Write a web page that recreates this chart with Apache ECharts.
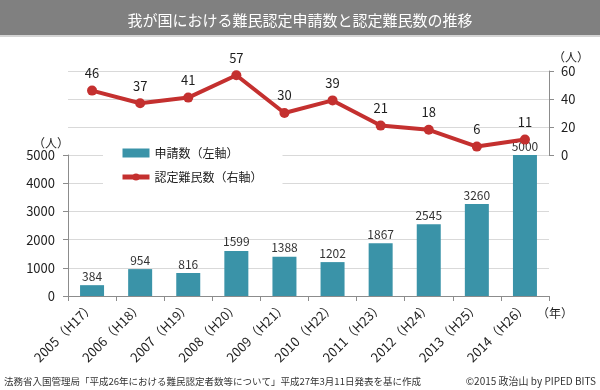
<!DOCTYPE html>
<html>
<head>
<meta charset="utf-8">
<script src="https://cdn.jsdelivr.net/npm/echarts@6/dist/echarts.min.js"></script>
<style>
html,body{margin:0;padding:0;background:#fff;}
#chart{width:600px;height:390px;}
</style>
</head>
<body>
<div id="chart"></div>
<script>
const categories = ['2005（H17）','2006（H18）','2007（H19）','2008（H20）','2009（H21）','2010（H22）','2011（H23）','2012（H24）','2013（H25）','2014（H26）'];
const applications = [384, 954, 816, 1599, 1388, 1202, 1867, 2545, 3260, 5000];
const recognized = [46, 37, 41, 57, 30, 39, 21, 18, 6, 11];
const seriesNames = ['申請数（左軸）', '認定難民数（右軸）'];
const titleText = '我が国における難民認定申請数と認定難民数の推移';
const sourceText = '法務省入国管理局「平成26年における難民認定者数等について」平成27年3月11日発表を基に作成';
const creditText = '©2015 政治山 by PIPED BITS';

const FONT = '"Noto Sans CJK JP", "Noto Sans", sans-serif';
const BAR = '#3a93a8';
const RED = '#c4302f';
const AXIS = '#8c8c8c';
const GRID = '#d9d9d9';
const TXT = '#1e1e1e';

const chart = echarts.init(document.getElementById('chart'), null, {renderer: 'canvas'});
chart.setOption({
  animation: false,
  textStyle: {fontFamily: FONT},
  title: {
    text: titleText, left: 'center', top: 8,
    textStyle: {color: '#fff', fontSize: 15, fontWeight: 'normal', fontFamily: FONT}
  },
  legend: {
    orient: 'vertical', left: 103, top: 141,
    padding: [6, 20, 6, 17], itemGap: 12,
    itemWidth: 27, itemHeight: 9,
    backgroundColor: '#fff',
    textStyle: {fontSize: 12, color: TXT, fontFamily: FONT},
    data: [
      {name: seriesNames[0], icon: 'rect'},
      {name: seriesNames[1], lineStyle: {width: 5}}
    ]
  },
  grid: [
    {left: 68, right: 51, top: 71, height: 84},
    {left: 68, right: 51, top: 155, bottom: 94}
  ],
  xAxis: [
    {gridIndex: 0, type: 'category', data: categories, show: false},
    {gridIndex: 1, type: 'category', data: categories,
     axisLine: {lineStyle: {color: AXIS}},
     axisTick: {show: true, length: 5, lineStyle: {color: AXIS}},
     axisLabel: {rotate: 45, fontSize: 13, color: TXT, margin: 8, interval: 0, fontFamily: FONT}}
  ],
  yAxis: [
    {gridIndex: 0, type: 'value', position: 'right', min: 0, max: 60, interval: 20,
     axisLine: {show: true, lineStyle: {color: AXIS}},
     axisTick: {show: true, length: 5, lineStyle: {color: AXIS}},
     axisLabel: {fontSize: 13, color: TXT, margin: 12, fontFamily: FONT},
     splitLine: {show: true, lineStyle: {color: GRID}}},
    {gridIndex: 1, type: 'value', position: 'left', min: 0, max: 5000, interval: 1000,
     axisLine: {show: true, lineStyle: {color: AXIS}},
     axisTick: {show: true, length: 5, lineStyle: {color: AXIS}},
     axisLabel: {fontSize: 13, color: TXT, margin: 13, fontFamily: FONT, formatter: function (v) { return String(v); }},
     splitLine: {show: true, lineStyle: {color: GRID}}}
  ],
  series: [
    {name: seriesNames[0], type: 'bar', xAxisIndex: 1, yAxisIndex: 1, data: applications,
     barWidth: 24, itemStyle: {color: BAR},
     label: {show: true, position: 'top', distance: 3, fontSize: 12, color: '#333', fontFamily: FONT}},
    {name: seriesNames[1], type: 'line', xAxisIndex: 0, yAxisIndex: 0, data: recognized,
     symbol: 'circle', symbolSize: 10,
     lineStyle: {color: RED, width: 4}, itemStyle: {color: RED},
     label: {show: true, position: 'top', distance: 6, fontSize: 13, color: TXT, fontFamily: FONT}}
  ],
  graphic: [
    {type: 'rect', z: -10, shape: {x: 0, y: 0, width: 600, height: 35}, style: {fill: '#808080'}},
    {type: 'rect', z: -10, shape: {x: 0, y: 35, width: 600, height: 2}, style: {fill: '#d4d4d4'}},
    {type: 'text', x: 33, y: 143, style: {text: '（人）', fill: TXT, font: '12px ' + FONT, verticalAlign: 'middle'}},
    {type: 'text', x: 553, y: 57, style: {text: '（人）', fill: TXT, font: '12px ' + FONT, verticalAlign: 'middle'}},
    {type: 'text', x: 537, y: 313, style: {text: '（年）', fill: TXT, font: '12px ' + FONT, verticalAlign: 'middle'}},
    {type: 'text', x: 4, y: 381, style: {text: sourceText, font: '9.5px ' + FONT, fill: '#333', verticalAlign: 'middle'}},
    {type: 'text', x: 596, y: 381, style: {text: creditText, font: '10px ' + FONT, fill: '#333', align: 'right', verticalAlign: 'middle'}}
  ]
});
</script>
</body>
</html>
